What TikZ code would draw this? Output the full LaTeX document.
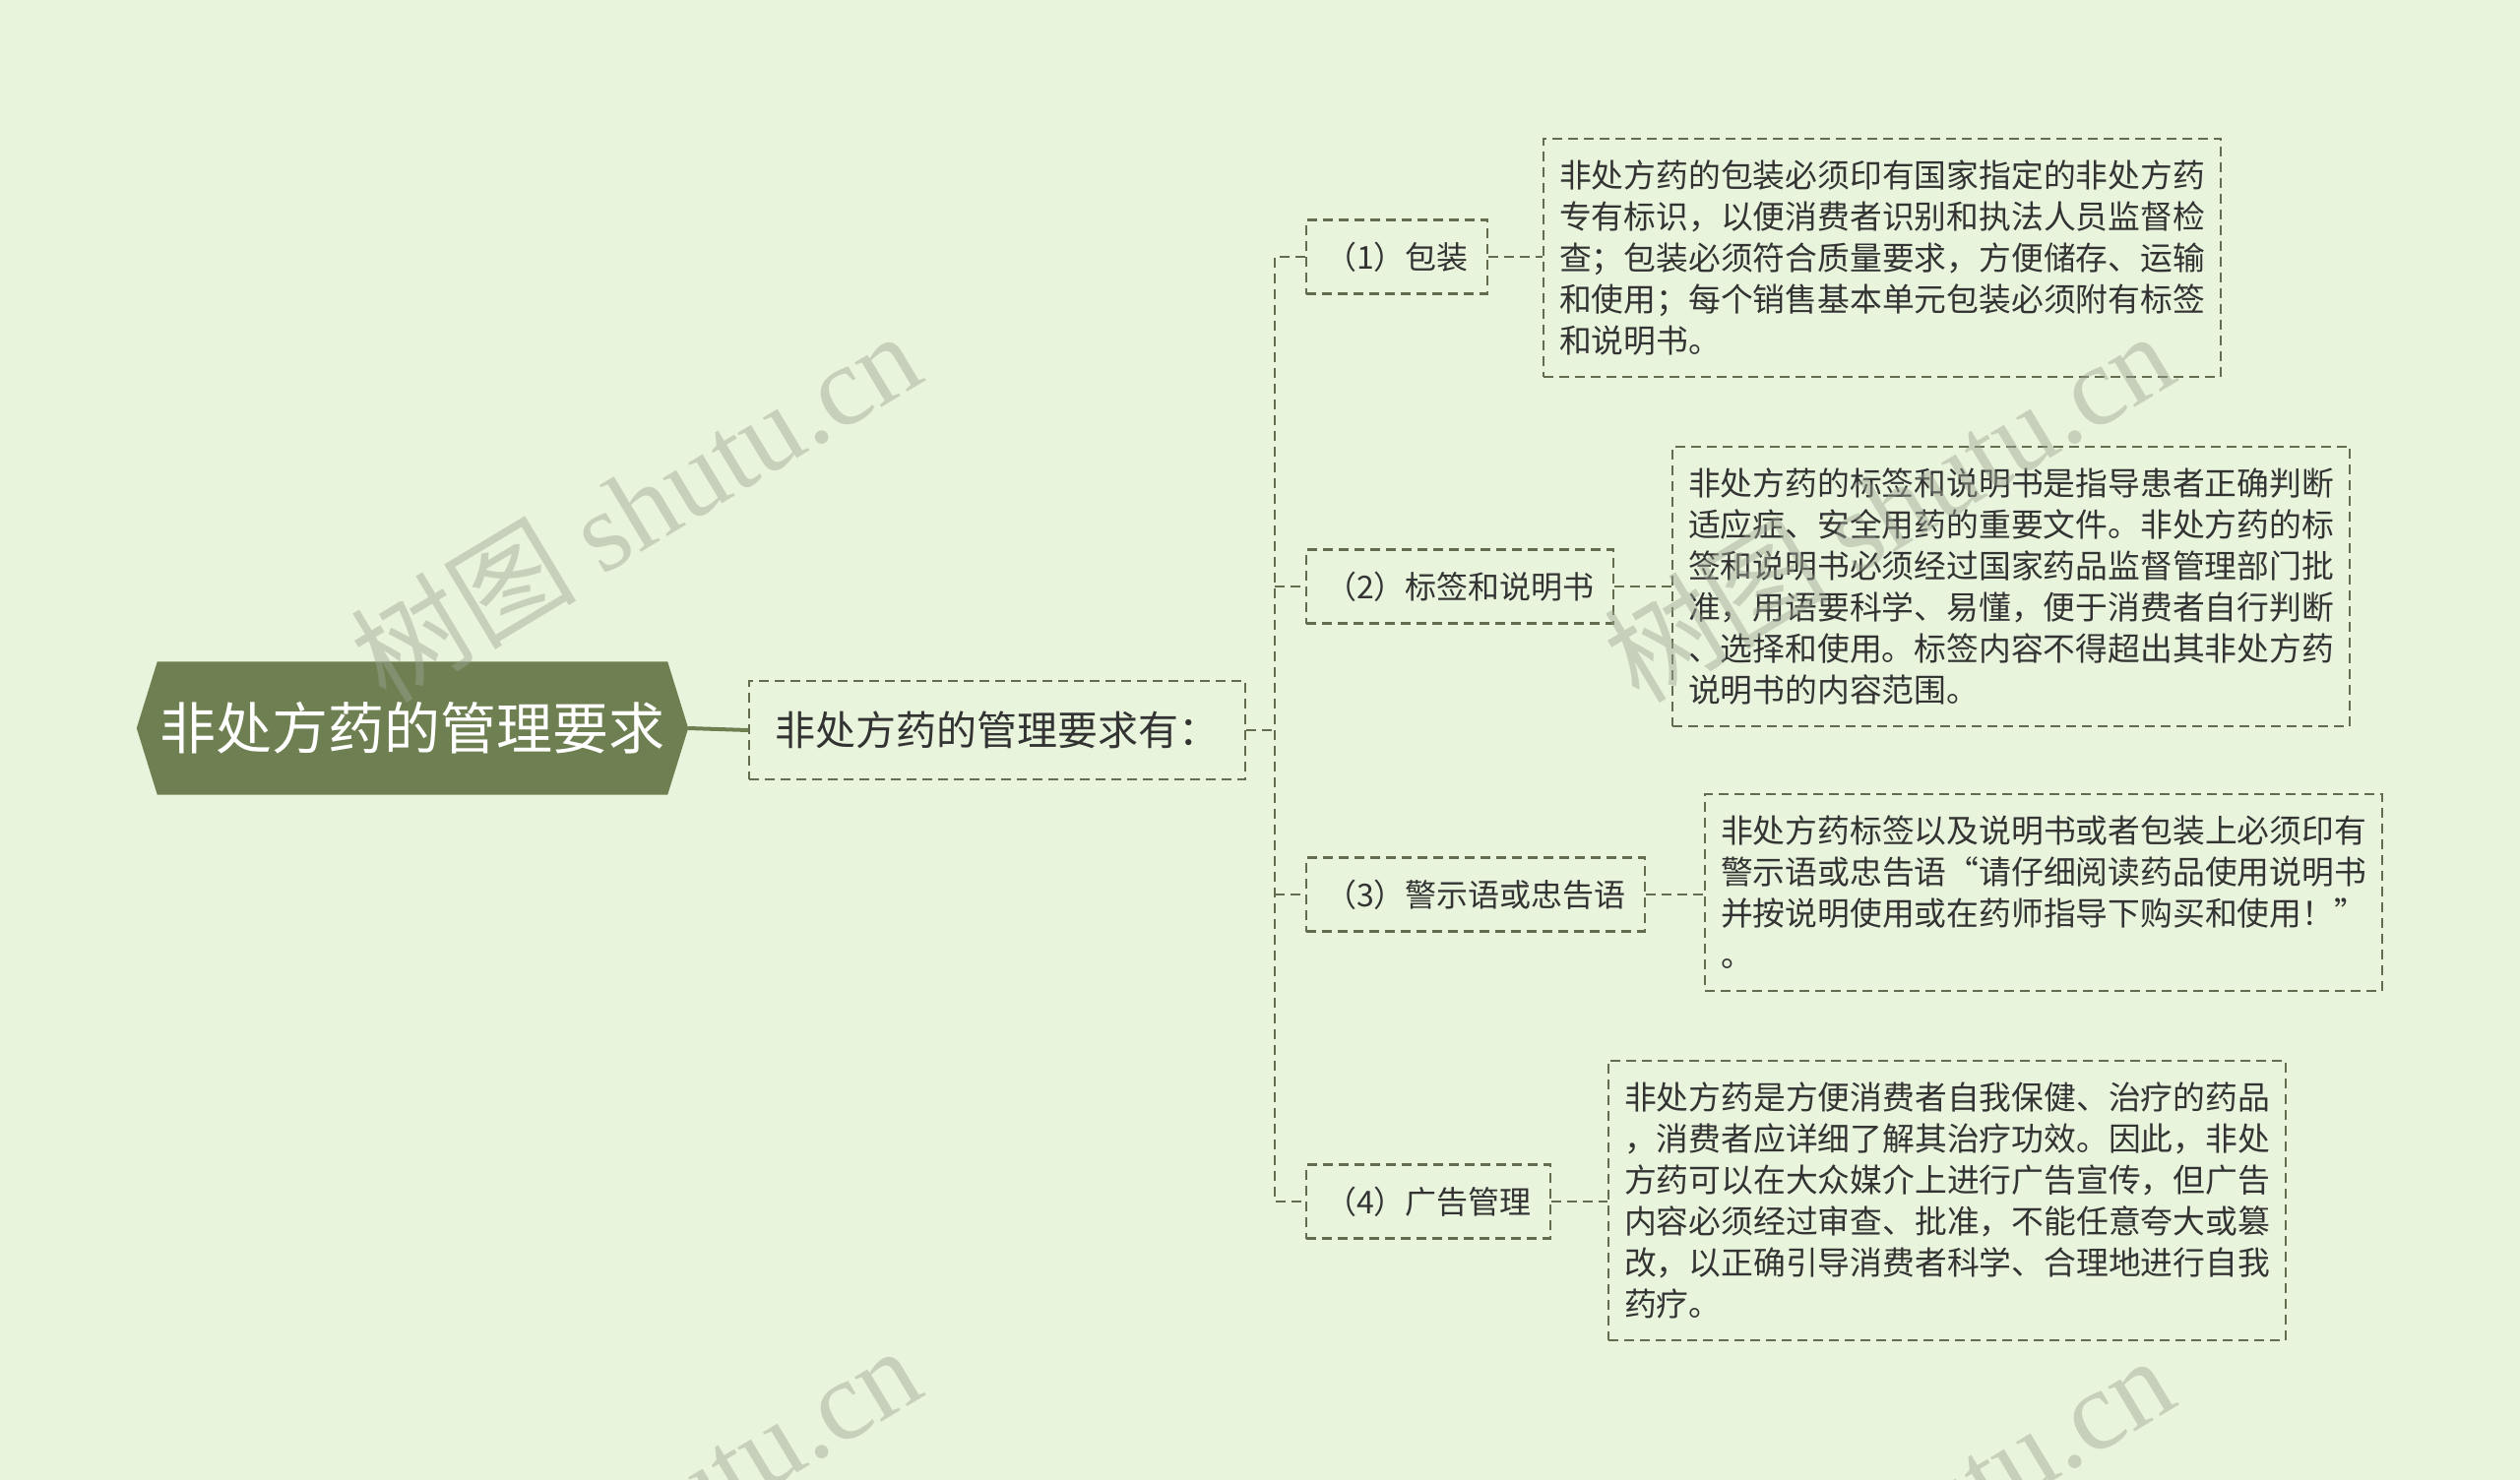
\documentclass[tikz,border=0pt]{standalone}
\usepackage{fontspec}
\setmainfont{Noto Sans CJK SC}
\newfontfamily\wmfont{Liberation Serif}
\newfontfamily\wmcjk{Noto Sans CJK SC}
\usetikzlibrary{backgrounds}
\definecolor{bgc}{HTML}{E8F5DC}
\definecolor{rootc}{HTML}{6E7F51}
\definecolor{linec}{HTML}{646C50}
\definecolor{txtc}{HTML}{333333}
\definecolor{wmc}{HTML}{9DA594}
\tikzset{
  conn/.style={draw=linec, line width=2.2pt, dash pattern=on 10pt off 6pt},
  rootbox/.style={text=white, font=\fontsize{57}{66}\selectfont, minimum width=560pt, minimum height=135pt, inner sep=0pt},
  midbox/.style={conn, text=txtc, font=\fontsize{41}{48}\selectfont, minimum width=504pt, minimum height=100pt, inner sep=0pt},
  branchbox/.style={conn, text=txtc, font=\fontsize{32}{40}\selectfont, minimum height=75pt, inner xsep=19pt, inner ysep=0pt},
  leafbox/.style={conn, text=txtc, font=\fontsize{32.8}{42}\selectfont, text width=656pt, align=left, inner xsep=16pt, inner ysep=22pt},
  wm/.style={text=wmc, opacity=0.45, rotate=31, font=\fontsize{115}{120}\selectfont}
}
\begin{document}
\begin{tikzpicture}[x=1pt, y=-1pt]
\begin{pgfonlayer}{background}
\fill[bgc] (0,0) rectangle (2560,1504);
\end{pgfonlayer}
\useasboundingbox (0,0) rectangle (2560,1504);

\node[rootbox] (root) at (419,740) {非处方药的管理要求};
\begin{pgfonlayer}{background}
\fill[rootc] (root.west) -- ([xshift=21pt]root.north west) -- ([xshift=-21pt]root.north east) -- (root.east) -- ([xshift=-21pt]root.south east) -- ([xshift=21pt]root.south west) -- cycle;
\end{pgfonlayer}

\node[midbox] (mid) at (1013,742) {非处方药的管理要求有：};

\node[branchbox, anchor=west] (b1) at (1326,261) {（1）包装};
\node[branchbox, anchor=west] (b2) at (1326,596) {（2）标签和说明书};
\node[branchbox, anchor=west] (b3) at (1326,909) {（3）警示语或忠告语};
\node[branchbox, anchor=west] (b4) at (1326,1221) {（4）广告管理};

\node[leafbox] (l1) at (1912,262) {非处方药的包装必须印有国家指定的非处方药\\专有标识，以便消费者识别和执法人员监督检\\查；包装必须符合质量要求，方便储存、运输\\和使用；每个销售基本单元包装必须附有标签\\和说明书。};
\node[leafbox] (l2) at (2043,596) {非处方药的标签和说明书是指导患者正确判断\\适应症、安全用药的重要文件。非处方药的标\\签和说明书必须经过国家药品监督管理部门批\\准，用语要科学、易懂，便于消费者自行判断\\、选择和使用。标签内容不得超出其非处方药\\说明书的内容范围。};
\node[leafbox] (l3) at (2076,907) {非处方药标签以及说明书或者包装上必须印有\\警示语或忠告语“请仔细阅读药品使用说明书\\并按说明使用或在药师指导下购买和使用！”\\。};
\node[leafbox] (l4) at (1978,1220) {非处方药是方便消费者自我保健、治疗的药品\\，消费者应详细了解其治疗功效。因此，非处\\方药可以在大众媒介上进行广告宣传，但广告\\内容必须经过审查、批准，不能任意夸大或篡\\改，以正确引导消费者科学、合理地进行自我\\药疗。};

\draw[rootc, line width=4pt] (root.east) -- (mid.west);
\coordinate (j) at (1295,742);
\draw[conn] (mid.east) -- (j);
\draw[conn] (b1.west) -- (b1.west -| j) -- (b4.west -| j) -- (b4.west);
\draw[conn] (b2.west -| j) -- (b2.west);
\draw[conn] (b3.west -| j) -- (b3.west);
\draw[conn] (b1.east) -- (b1.east -| l1.west);
\draw[conn] (b2.east) -- (b2.east -| l2.west);
\draw[conn] (b3.east) -- (b3.east -| l3.west);
\draw[conn] (b4.east) -- (b4.east -| l4.west);

\begin{scope}
\clip (0,0) rectangle (2560,1504);
\node[wm] (w1) at (645,514) {\wmcjk 树图 \wmfont shutu.cn};
\node[wm] (w2) at (1918,514) {\wmcjk 树图 \wmfont shutu.cn};
\node[wm] (w3) at (645,1545) {\wmcjk 树图 \wmfont shutu.cn};
\node[wm] (w4) at (1918,1555) {\wmcjk 树图 \wmfont shutu.cn};
\end{scope}
\end{tikzpicture}
\end{document}
